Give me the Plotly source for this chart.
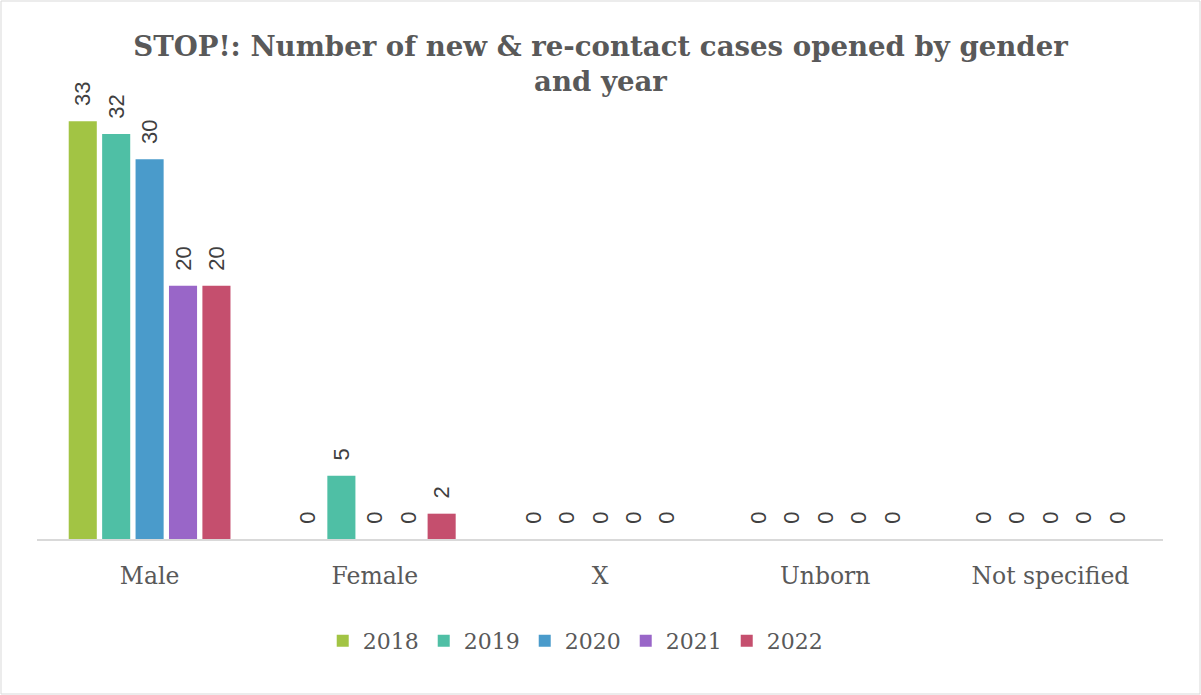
import plotly.graph_objects as go

categories = ["Male", "Female", "X", "Unborn", "Not specified"]
years = ["2018", "2019", "2020", "2021", "2022"]
values = {
    "2018": [33, 0, 0, 0, 0],
    "2019": [32, 5, 0, 0, 0],
    "2020": [30, 0, 0, 0, 0],
    "2021": [20, 0, 0, 0, 0],
    "2022": [20, 2, 0, 0, 0],
}
colors = ["#A2C444", "#4FBFA5", "#4A9BCB", "#9966C8", "#C54F6E"]

fig = go.Figure()
for yr, col in zip(years, colors):
    fig.add_trace(go.Bar(
        x=categories, y=values[yr], name=yr,
        marker=dict(color=col, line=dict(width=0)),
        text=["\u00a0\u00a0" + str(v) for v in values[yr]],
        textposition="outside", textangle=-90, constraintext="none",
        textfont=dict(family="Liberation Sans, Arial, sans-serif", size=22, color="#404040"),
        cliponaxis=False,
    ))

fig.update_layout(
    width=1201, height=695,
    paper_bgcolor="white", plot_bgcolor="white",
    barmode="group", bargap=0.258, bargroupgap=0.16,
    margin=dict(l=37, r=38, t=96, b=156),
    title=dict(
        text="<b>STOP!: Number of new &amp; re-contact cases opened by gender<br>and year</b>",
        x=0.5, xanchor="center", y=0.92, yanchor="middle",
        font=dict(family="DejaVu Serif, serif", size=27.6, color="#595959"),
    ),
    xaxis=dict(
        showline=True, linecolor="#D9D9D9", linewidth=1.5,
        ticks="", showgrid=False, ticklabelstandoff=15,
        tickfont=dict(family="DejaVu Serif, serif", size=23.5, color="#595959"),
    ),
    yaxis=dict(visible=False, range=[0, 35], showgrid=False),
    legend=dict(
        orientation="h", x=0.478, xanchor="center", y=-0.23, yanchor="middle",
        font=dict(family="DejaVu Serif, serif", size=22, color="#595959"),
        traceorder="normal",
    ),
    shapes=[dict(type="rect", xref="paper", yref="paper",
                 x0=-36/1126, x1=1+37/1126, y0=-155/443, y1=1+95/443,
                 line=dict(color="#D9D9D9", width=1))],
)

fig.write_html("out.html", config={"displayModeBar": False},
               post_script="document.body.style.margin='0';")
